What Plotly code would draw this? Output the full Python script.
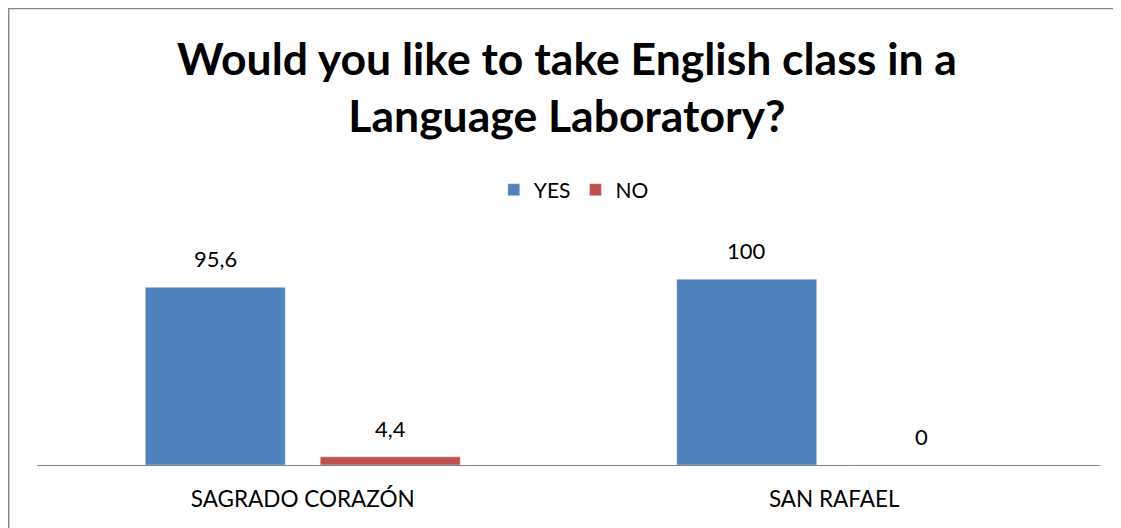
import plotly.graph_objs as go

schools = ['SAGRADO CORAZÓN', 'SAN RAFAEL']
yes_pct = [95.6, 100]
no_pct = [4.4, 0]

FONT = 'Lato, Open Sans, sans-serif'
BLUE = '#4F81BD'
RED = '#C0504D'


def fmt(v):
    # comma as decimal separator, like the original chart
    return ('%g' % v).replace('.', ',')


data = []
data.append(go.Bar(name='YES', x=schools, y=yes_pct, marker=dict(color=BLUE)))
data.append(go.Bar(name='NO', x=schools, y=no_pct, marker=dict(color=RED)))

# value labels sit a bit higher above the bars than plotly's default
annotations = []
for vals, shift in [(yes_pct, -87.5), (no_pct, 87.5)]:
    for school, v in zip(schools, vals):
        annotations.append(dict(
            x=school, y=v, xref='x', yref='y',
            text=fmt(v), showarrow=False,
            xshift=shift, yanchor='bottom', yshift=13,
            font=dict(size=22, family=FONT, color='#000000'),
        ))

# page body adds an 8px offset, so the figure is 8px smaller than the window
layout = go.Layout(
    width=1113,
    height=520,
    margin=dict(l=29, r=21, t=234, b=63),
    paper_bgcolor='white',
    plot_bgcolor='white',
    font=dict(family=FONT, color='#000000'),
    title=dict(
        text='<b>Would you like to take English class in a<br>Language Laboratory?</b>',
        x=0.5022, xanchor='center',
        yref='container', y=0.872, yanchor='middle',
        font=dict(size=44.5, family=FONT, color='#000000'),
    ),
    showlegend=True,
    legend=dict(
        orientation='h',
        x=0.505, xanchor='center',
        y=1.233, yanchor='middle',
        font=dict(size=21),
        traceorder='normal',
    ),
    barmode='group',
    bargap=0.3415,
    bargroupgap=0.2,
    xaxis=dict(
        showline=True, linecolor='#868686', linewidth=1,
        ticks='', tickfont=dict(size=22.5),
        ticklabelstandoff=14,
        showgrid=False,
    ),
    yaxis=dict(
        range=[0, 120],
        visible=False,
        showgrid=False,
        zeroline=False,
    ),
    annotations=annotations,
    shapes=[dict(
        type='rect', xref='paper', yref='paper',
        x0=-0.0266, x1=1.0188, y0=-0.35, y1=2.047,
        line=dict(color='#868686', width=1.5),
    )],
)

fig = go.Figure(data=data, layout=layout)
fig.write_html('out.html')
